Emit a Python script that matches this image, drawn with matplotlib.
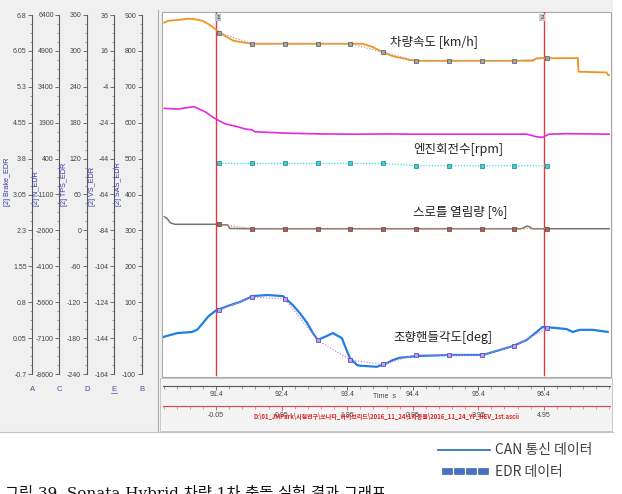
import numpy as np
import matplotlib
matplotlib.use("Agg")
import matplotlib.pyplot as plt
from matplotlib.patches import Rectangle
from matplotlib.lines import Line2D
from matplotlib.ticker import FixedLocator

plt.rcParams['font.family'] = ['Noto Sans CJK KR', 'DejaVu Sans']

# ---------------- data ----------------
# time window (s)
t_min, t_max = 90.59, 97.41
t_offset = 91.45            # EDR time zero
cursor_times = [91.4, 96.4]
time_ticks = [91.4, 92.4, 93.4, 94.4, 95.4, 96.4]
rel_ticks = [-0.05, 0.95, 1.95, 2.95, 3.95, 4.95]

# left-hand channel axes: letter, label, min, max
axis_letters = ['A', 'C', 'D', 'E', 'B']
axis_names = ['[2] Brake_EDR', '[2] N_EDR', '[2] TPS_EDR', '[2] VS_EDR', '[2] SAS_EDR']
axis_min = [-0.7, -8600, -240, -164, -100]
axis_max = [6.8, 6400, 360, 36, 900]

# EDR sample times
edr_t = [91.45, 91.95, 92.45, 92.95, 93.45, 93.95, 94.45, 94.95, 95.45, 95.95, 96.45]

# vehicle speed (VS axis)
speed_t = [90.61, 90.67, 90.82, 90.96, 91.05, 91.19, 91.28, 91.38, 91.46, 91.57, 91.66,
           91.80, 91.95, 93.63, 93.78, 93.95, 94.10, 94.25, 94.36, 94.46, 96.23, 96.29,
           96.38, 96.46, 96.92, 96.93, 97.36, 97.38, 97.41]
speed_can = [31.7, 32.8, 33.2, 33.9, 33.8, 32.8, 31.0, 28.4, 26.1, 23.6, 21.7,
             20.8, 20.0, 20.0, 18.3, 15.2, 13.0, 11.9, 10.9, 10.5, 10.5, 11.9,
             12.0, 11.9, 12.0, 4.4, 4.0, 2.6, 2.6]
speed_edr = [26.1, 20.0, 20.0, 20.0, 20.0, 15.2, 10.5, 10.5, 10.5, 10.5, 11.9]

# engine speed (N axis)
rpm_t = [90.61, 90.82, 90.96, 91.06, 91.23, 91.38, 91.54, 91.69, 91.84, 91.95, 91.99,
         92.50, 93.02, 93.52, 94.02, 94.40, 95.42, 96.14, 96.29, 96.38, 96.48, 96.75, 97.41]
rpm_can = [2500, 2470, 2530, 2570, 2360, 2080, 1850, 1760, 1640, 1600, 1520,
           1460, 1430, 1420, 1430, 1420, 1420, 1420, 1310, 1290, 1420, 1440, 1420]
rpm_edr = [200, 200, 200, 200, 200, 200, 100, 100, 100, 100, 100]

# throttle (TPS axis)
tps_t = [90.61, 90.65, 90.70, 90.77, 91.38, 91.58, 91.61, 91.95, 96.06, 96.11, 96.15,
         96.19, 96.22, 97.41]
tps_can = [22.9, 20.2, 12.9, 10.2, 10.2, 9.0, 3.2, 2.8, 2.8, 5.5, 7.4, 5.5, 2.8, 2.8]
tps_edr = [10.2, 2.8, 2.8, 2.8, 2.8, 2.8, 2.8, 2.8, 2.8, 2.8, 2.8]

# steering angle (SAS axis)
sas_t = [90.59, 90.81, 91.03, 91.11, 91.20, 91.28, 91.39, 91.57, 91.77, 91.96, 92.18,
         92.42, 92.57, 92.68, 92.79, 92.88, 92.95, 93.04, 93.09, 93.18, 93.32, 93.37,
         93.44, 93.55, 93.60, 93.70, 93.85, 93.98, 94.10, 94.20, 94.46, 94.97, 95.47,
         95.62, 95.93, 96.14, 96.29, 96.38, 96.60, 96.75, 96.84, 96.95, 97.15, 97.38]
sas_can = [3, 14, 17, 23, 42, 60, 76, 89, 101, 117, 120,
           117, 92, 69, 42, 13, -5, 2, 6, 14, 0, -24,
           -55, -75, -77, -78, -80, -72, -61, -55, -50, -47, -47,
           -39, -22, -5, 17, 31, 28, 25, 17, 23, 23, 17]
sas_edr = [78, 114, 109, -6, -61, -73, -46, -48, -48, -21, 27]

# ---------------- layout helpers ----------------
W, H = 622, 494
fig = plt.figure(figsize=(W / 100, H / 100), dpi=100)
fig.patch.set_facecolor('white')


def R(x0, y0, x1, y1):
    return [x0 / W, 1 - y1 / H, (x1 - x0) / W, (y1 - y0) / H]


def prect(x0, y0, x1, y1, zorder=-10, **kw):
    fig.add_artist(Rectangle((x0 / W, 1 - y1 / H), (x1 - x0) / W, (y1 - y0) / H,
                             transform=fig.transFigure, zorder=zorder, **kw))


def pline(x0, y0, x1, y1, zorder=-5, **kw):
    fig.add_artist(Line2D([x0 / W, x1 / W], [1 - y0 / H, 1 - y1 / H],
                          transform=fig.transFigure, zorder=zorder, **kw))


# screenshot background
prect(0, 0, 613, 432, fc='#f0f0f0', ec='none', zorder=-20)
pline(0, 431.5, 613, 431.5, color='#c4c4c4', lw=0.8)
# time panel
prect(160, 378, 612, 431, fc='#f4f4f4', ec='#c8c8c8', lw=0.7)
# plot area
prect(162, 12, 611, 377, fc='white', ec='#a8a8a8', lw=0.8)
pline(158.3, 10, 158.3, 431, color='#b0b0b0', lw=0.8)

# ---------------- left channel axes ----------------
axis_x = [32.3, 59.3, 86.7, 114, 141.7]
name_x = [8, 37, 64, 92, 119]
tick_font = dict(family='Liberation Sans')
for i in range(5):
    lo, hi = axis_min[i], axis_max[i]
    ax = fig.add_axes(R(axis_x[i], 15, axis_x[i] + 1, 374))
    ax.patch.set_alpha(0)
    for s in ['top', 'right', 'bottom']:
        ax.spines[s].set_visible(False)
    ax.spines['left'].set_color('#5a5a5a')
    ax.spines['left'].set_linewidth(0.8)
    ax.set_ylim(lo, hi)
    ax.set_xticks([])
    ticks = np.linspace(lo, hi, 11)
    ax.set_yticks(ticks)
    ax.set_yticklabels(['{:g}'.format(round(v, 2)) for v in ticks], fontsize=5,
                       color='#444444', **tick_font)
    ax.yaxis.set_minor_locator(FixedLocator(np.linspace(lo, hi, 41)))
    ax.tick_params(axis='y', which='major', length=3, width=0.6, color='#5a5a5a', pad=1)
    ax.tick_params(axis='y', which='minor', length=1.5, width=0.5, color='#7a7a7a')
    fig.text(axis_x[i] / W, 1 - 389 / H, axis_letters[i], ha='center', va='center',
             fontsize=5.5, color='#50509a', **tick_font)
    fig.text(name_x[i] / W, 1 - 206 / H, axis_names[i], rotation=90, ha='center',
             va='bottom', fontsize=5.2, color='#3a3aa8', **tick_font)
# underline of selected letter E
pline(111, 393, 117, 393, color='#50509a', lw=0.5)

# ---------------- cursors ----------------
axc = fig.add_axes(R(163, 12, 610, 377))
axc.set_xlim(t_min, t_max)
axc.set_ylim(0, 1)
axc.axis('off')
for tc in cursor_times:
    axc.axvline(tc, ymin=0.005, ymax=1.0, color='#e03a3a', lw=1.0)
axc.text(cursor_times[0], 0.985, '1', fontsize=4.5, ha='left', va='center',
         color='#333333', bbox=dict(fc='#b9c4d2', ec='none', pad=0.8), **tick_font)
axc.text(cursor_times[1], 0.985, '2', fontsize=4.5, ha='right', va='center',
         color='#333333', bbox=dict(fc='#c8c8c8', ec='none', pad=0.8), **tick_font)


def channel_axes(idx):
    a = fig.add_axes(R(163, 15, 610, 374))
    a.set_xlim(t_min, t_max)
    a.set_ylim(axis_min[idx], axis_max[idx])
    a.axis('off')
    a.patch.set_alpha(0)
    return a


# throttle
a = channel_axes(2)
a.plot(tps_t, tps_can, color='#747474', lw=1.1, solid_joinstyle='round')
a.plot(edr_t, tps_edr, color='#d98a7a', lw=0.9, ls=(0, (1, 1.3)), marker='s', ms=3.2,
       mfc='#a06a58', mec='#6e3e2e', mew=0.5)
# engine speed
a = channel_axes(1)
a.plot(rpm_t, rpm_can, color='#e22ae2', lw=1.2, solid_joinstyle='round')
a.plot(edr_t, rpm_edr, color='#38dede', lw=0.9, ls=(0, (1, 1.3)), marker='s', ms=3.2,
       mfc='#3cd2d2', mec='#1c7f84', mew=0.5)
# vehicle speed
a = channel_axes(3)
a.plot(speed_t, speed_can, color='#f5921e', lw=1.3, solid_joinstyle='round')
a.plot(edr_t, speed_edr, color='#a8a8a8', lw=0.9, ls=(0, (1, 1.3)), marker='s', ms=3.2,
       mfc='#a4a4a4', mec='#555555', mew=0.5)
# steering
a = channel_axes(4)
a.plot(sas_t, sas_can, color='#1f80e2', lw=1.6, solid_joinstyle='round',
       solid_capstyle='round')
a.plot(edr_t, sas_edr, color='#e27ae2', lw=0.9, ls=(0, (1, 1.3)), marker='s', ms=3.2,
       mfc='#c79ce6', mec='#4f56c8', mew=0.6)

# channel titles
fig.text(390 / W, 1 - 42 / H, '차량속도 [km/h]', fontsize=9, va='center', color='#222222')
fig.text(413 / W, 1 - 150 / H, '엔진회전수[rpm]', fontsize=9, va='center', color='#222222')
fig.text(413 / W, 1 - 212 / H, '스로틀 열림량 [%]', fontsize=9, va='center', color='#222222')
fig.text(393 / W, 1 - 337 / H, '조향핸들각도[deg]', fontsize=9, va='center', color='#222222')

# ---------------- time axes ----------------
axt = fig.add_axes(R(163, 380, 610, 386))
axt.patch.set_alpha(0)
for s in ['top', 'right', 'left']:
    axt.spines[s].set_visible(False)
axt.spines['bottom'].set_color('#555555')
axt.spines['bottom'].set_linewidth(0.8)
axt.set_xlim(t_min, t_max)
axt.set_yticks([])
axt.set_xticks(time_ticks)
axt.set_xticklabels(['{:.1f}'.format(v) for v in time_ticks], fontsize=5, color='#444444',
                    **tick_font)
axt.xaxis.set_minor_locator(FixedLocator(np.arange(90.6, 97.41, 0.2)))
axt.tick_params(axis='x', which='major', length=3, width=0.6, color='#555555', pad=0.5)
axt.tick_params(axis='x', which='minor', length=2, width=0.5, color='#777777')
fig.text(384 / W, 1 - 396 / H, 'Time  s', fontsize=5, ha='center', va='center',
         color='#444444', **tick_font)

axr = fig.add_axes(R(163, 400, 610, 406))
axr.patch.set_alpha(0)
for s in ['top', 'right', 'left']:
    axr.spines[s].set_visible(False)
axr.spines['bottom'].set_color('#e04848')
axr.spines['bottom'].set_linewidth(0.8)
axr.set_xlim(t_min - t_offset, t_max - t_offset)
axr.set_yticks([])
axr.set_xticks(rel_ticks)
axr.set_xticklabels(['{:g}'.format(v) for v in rel_ticks], fontsize=5, color='#444444',
                    **tick_font)
axr.xaxis.set_minor_locator(FixedLocator(np.arange(-0.85, 5.96, 0.2)))
axr.tick_params(axis='x', which='major', length=3, width=0.6, color='#e04848', pad=1.5)
axr.tick_params(axis='x', which='minor', length=2, width=0.5, color='#e07070')
fig.text(387 / W, 1 - 416 / H,
         'D:\\01_JMPark\\시험연구\\쏘나타_하이브리드\\2016_11_24\\1차충돌\\2016_11_24_YF_HEV_1st.ascii',
         fontsize=4.3, ha='center', va='center', color='#e02020', weight='bold')

# ---------------- legend ----------------
pline(438, 450, 490, 450, color='#2e75b6', lw=1.3, zorder=2)
fig.text(495 / W, 1 - 450 / H, 'CAN 통신 데이터', fontsize=10, va='center', color='#404040')
for xs in [442, 454, 466, 478]:
    prect(xs, 468, xs + 10, 474, fc='#4472c4', ec='#2f528f', lw=0.4, zorder=2)
fig.text(495 / W, 1 - 472 / H, 'EDR 데이터', fontsize=10, va='center', color='#404040')

# caption (cut off at the bottom)
fig.text(5 / W, 1 - 485 / H, '그림 39. Sonata Hybrid 차량 1차 충돌 실험 결과 그래프',
         fontsize=11, va='top', ha='left', color='#111111',
         family=['DejaVu Serif', 'Noto Sans CJK KR'])

fig.savefig('out.png', dpi=100)
